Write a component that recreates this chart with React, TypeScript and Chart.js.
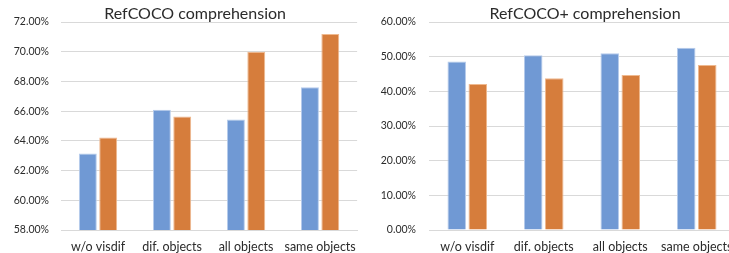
import React, { useEffect, useRef } from "react";
import { Chart, registerables } from "chart.js";

Chart.register(...registerables);

const categories = ["w/o visdif", "dif. objects", "all objects", "same objects"];
const refcocoBlue = [63.15, 66.09, 65.44, 67.6];
const refcocoOrange = [64.23, 65.64, 70.0, 71.2];
const refcocoPlusBlue = [48.6, 50.4, 51.0, 52.6];
const refcocoPlusOrange = [42.15, 43.8, 44.7, 47.6];

const BLUE = "#7099d4";
const ORANGE = "#d67d3c";

type PanelProps = {
  title: string;
  titleShift: number;
  blue: number[];
  orange: number[];
  min: number;
  max: number;
  step: number;
  left: number;
  width: number;
  padRight: number;
  axisWidth: number;
  tickPad: number;
};

function Panel(p: PanelProps) {
  const ref = useRef<HTMLCanvasElement | null>(null);
  useEffect(() => {
    if (!ref.current) return;
    const titlePlugin = {
      id: "panelTitle",
      afterDraw(chart: any) {
        const { ctx, chartArea } = chart;
        ctx.save();
        ctx.fillStyle = "#2b2b2b";
        ctx.font = "16px Lato";
        ctx.textAlign = "center";
        ctx.textBaseline = "middle";
        ctx.fillText(p.title, (chartArea.left + chartArea.right) / 2 + p.titleShift, 14);
        ctx.restore();
      },
    };
    const chart = new Chart(ref.current, {
      type: "bar",
      data: {
        labels: categories,
        datasets: [
          {
            data: p.blue,
            backgroundColor: BLUE,
            borderColor: "#b5cbeb",
            borderWidth: 1,
          },
          {
            data: p.orange,
            backgroundColor: ORANGE,
            borderColor: "#efb98f",
            borderWidth: 1,
          },
        ],
      },
      options: {
        responsive: false,
        animation: false,
        layout: { padding: { left: 0, right: p.padRight, top: 22, bottom: 0 } },
        datasets: {
          bar: { categoryPercentage: 0.55, barPercentage: 0.88 },
        },
        plugins: {
          legend: { display: false },
          tooltip: { enabled: false },
          title: { display: false },
        },
        scales: {
          x: {
            grid: { display: false, drawTicks: false },
            border: { display: true, color: "#d9d9d9" },
            ticks: {
              color: "#2b2b2b",
              font: { family: "Lato", size: 12.5 },
              padding: 9,
              maxRotation: 0,
              autoSkip: false,
            },
            afterFit: (s: any) => {
              s.height = 23;
            },
          },
          y: {
            min: p.min,
            max: p.max,
            grid: { color: "#d9d9d9", drawTicks: false },
            border: { display: false },
            ticks: {
              stepSize: p.step,
              color: "#2b2b2b",
              font: { family: "Lato", size: 10.5 },
              padding: p.tickPad,
              callback: (v: any) => Number(v).toFixed(2) + "%",
            },
            afterFit: (s: any) => {
              s.width = p.axisWidth;
            },
          },
        },
      },
      plugins: [titlePlugin],
    });
    return () => chart.destroy();
  }, []);
  return (
    <canvas
      ref={ref}
      width={p.width}
      height={253}
      style={{ position: "absolute", left: p.left, top: 0, width: p.width, height: 253 }}
    />
  );
}

export default function App() {
  return (
    <div
      style={{
        position: "fixed",
        left: 0,
        top: 0,
        width: 729,
        height: 253,
        overflow: "hidden",
        background: "#ffffff",
      }}
    >
      <Panel
        title="RefCOCO comprehension"
        titleShift={-14}
        blue={refcocoBlue}
        orange={refcocoOrange}
        min={58}
        max={72}
        step={2}
        left={0}
        width={365}
        padRight={2}
        axisWidth={61}
        tickPad={12}
      />
      <Panel
        title="RefCOCO+ comprehension"
        titleShift={3}
        blue={refcocoPlusBlue}
        orange={refcocoPlusOrange}
        min={0}
        max={60}
        step={10}
        left={365}
        width={380}
        padRight={10}
        axisWidth={64}
        tickPad={13}
      />
    </div>
  );
}
